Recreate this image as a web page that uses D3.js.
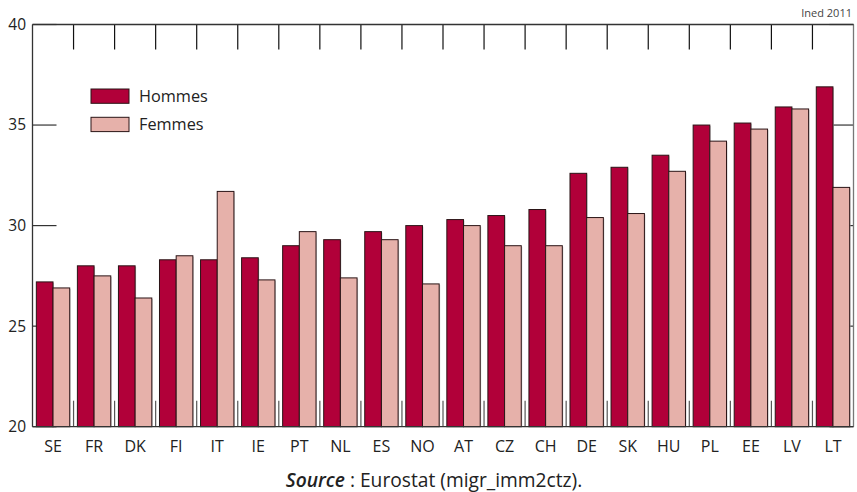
<!DOCTYPE html>
<html><head><meta charset="utf-8">
<script src="https://cdn.jsdelivr.net/npm/d3@7"></script>
<style>body{margin:0;background:#fff}svg{display:block;font-family:"Open Sans",sans-serif}</style>
</head><body>
<script>
const categories = ["SE","FR","DK","FI","IT","IE","PT","NL","ES","NO","AT","CZ","CH","DE","SK","HU","PL","EE","LV","LT"];
const hommes = [27.2,28.0,28.0,28.3,28.3,28.4,29.0,29.3,29.7,30.0,30.3,30.5,30.8,32.6,32.9,33.5,35.0,35.1,35.9,36.9];
const femmes = [26.9,27.5,26.4,28.5,31.7,27.3,29.7,27.4,29.3,27.1,30.0,29.0,29.0,30.4,30.6,32.7,34.2,34.8,35.8,31.9];
const yTicks = [20,25,30,35,40];
const seriesNames = ["Hommes","Femmes"];
const colors = ["#b10039","#e6b1aa"];

const W=857,H=492;
const svg=d3.select("body").append("svg").attr("width",W).attr("height",H);
const L=32.5,R=853.5,T=24.5,B=426.7;
const x=d3.scaleBand().domain(categories).range([L,R]).paddingInner(0).paddingOuter(0);
const xs=d3.scaleBand().domain(seriesNames).range([0,x.bandwidth()]).paddingInner(0).paddingOuter(0.23);
const y=d3.scaleLinear().domain([20,40]).range([B,T]);
const ax="#333";

// grid ticks (drawn behind bars)
const g=svg.append("g");
yTicks.forEach(t=>{
  g.append("line").attr("x1",L).attr("x2",L+24).attr("y1",y(t)).attr("y2",y(t)).attr("stroke",ax).attr("stroke-width",1.2);
  g.append("line").attr("x1",R-24).attr("x2",R).attr("y1",y(t)).attr("y2",y(t)).attr("stroke",ax).attr("stroke-width",1.2);
});
categories.slice(1).forEach(c=>{
  const xx=x(c);
  g.append("line").attr("x1",xx).attr("x2",xx).attr("y1",T).attr("y2",T+25).attr("stroke","#111").attr("stroke-width",1.2);
  g.append("line").attr("x1",xx).attr("x2",xx).attr("y1",B).attr("y2",B-26).attr("stroke","#555").attr("stroke-width",1.2);
});

// bars
const data=[hommes,femmes];
const bars=svg.append("g");
categories.forEach((c,i)=>{
  seriesNames.forEach((s,j)=>{
    const bx=x(c)+xs(s), bw=xs.bandwidth(), v=data[j][i];
    bars.append("rect").attr("x",bx+1).attr("y",y(v)+1).attr("width",bw).attr("height",B-y(v)-1)
      .attr("fill","#bbb").attr("opacity",0.7);
    bars.append("rect").attr("x",bx).attr("y",y(v)).attr("width",bw).attr("height",B-y(v))
      .attr("fill",colors[j]).attr("stroke","#2a1416").attr("stroke-width",1);
  });
});

// axes frame
svg.append("line").attr("x1",L).attr("x2",L).attr("y1",T).attr("y2",B).attr("stroke",ax).attr("stroke-width",1.3);
svg.append("line").attr("x1",R).attr("x2",R).attr("y1",T).attr("y2",B).attr("stroke","#777").attr("stroke-width",1.3);
svg.append("line").attr("x1",L).attr("x2",R).attr("y1",T).attr("y2",T).attr("stroke",ax).attr("stroke-width",1.3);
svg.append("line").attr("x1",L).attr("x2",R).attr("y1",B).attr("y2",B).attr("stroke",ax).attr("stroke-width",1.3);

// y labels
yTicks.forEach(t=>{
  svg.append("text").attr("x",26).attr("y",y(t)).attr("dy","0.35em").attr("text-anchor","end")
    .attr("font-size",15.5).attr("fill","#222").text(t);
});
// x labels
categories.forEach(c=>{
  svg.append("text").attr("x",x(c)+x.bandwidth()/2).attr("y",452).attr("text-anchor","middle")
    .attr("font-size",16).attr("fill","#222").text(c);
});

// legend
seriesNames.forEach((s,j)=>{
  const ly=89+j*28.3;
  svg.append("rect").attr("x",91).attr("y",ly).attr("width",38).attr("height",14.3)
    .attr("fill",colors[j]).attr("stroke","#2a1416").attr("stroke-width",1);
  svg.append("text").attr("x",139).attr("y",ly+7.2).attr("dy","0.36em").attr("font-size",16.3).attr("fill","#222").text(s);
});

// source
const src=svg.append("text").attr("x",434).attr("y",487).attr("text-anchor","middle").attr("font-size",19.2).attr("fill","#222");
src.append("tspan").attr("font-style","italic").attr("font-weight","600").text("Source");
src.append("tspan").text(" : Eurostat (migr_imm2ctz).");

svg.append("text").attr("x",852).attr("y",17).attr("text-anchor","end").attr("font-size",11).attr("fill","#444").text("Ined 2011");
</script>
</body></html>
